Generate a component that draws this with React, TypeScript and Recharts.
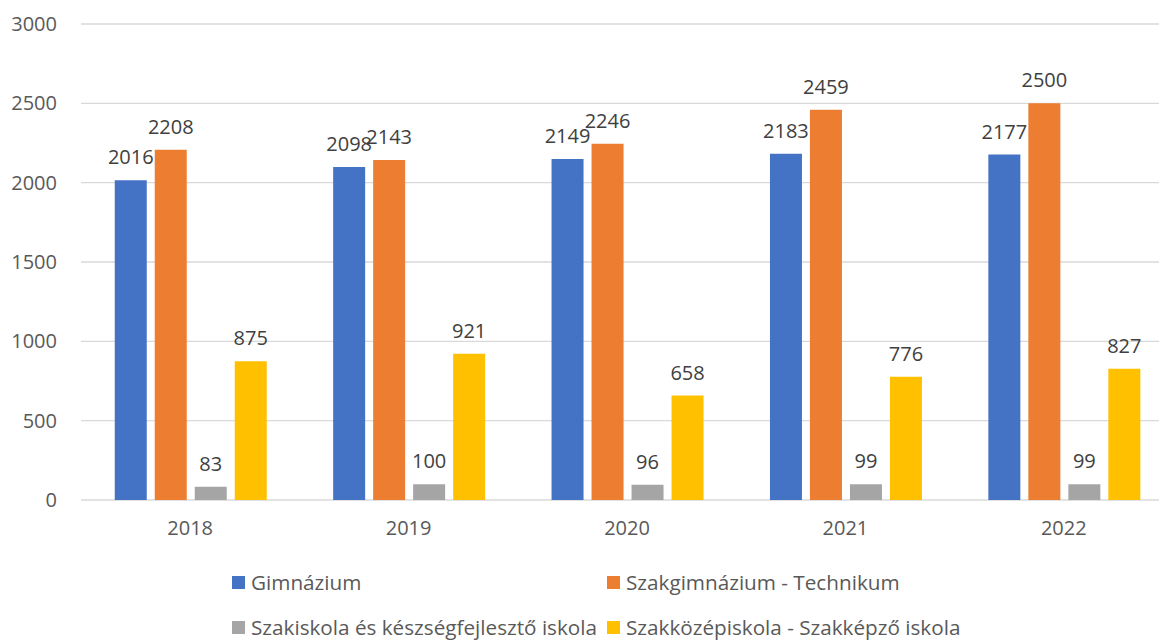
import React from 'react';
import { BarChart, Bar, XAxis, YAxis, CartesianGrid, Legend, LabelList } from 'recharts';

const years = ['2018', '2019', '2020', '2021', '2022'];
const gimnazium = [2016, 2098, 2149, 2183, 2177];
const technikum = [2208, 2143, 2246, 2459, 2500];
const szakiskola = [83, 100, 96, 99, 99];
const szakkepzo = [875, 921, 658, 776, 827];
const yTicks = [0, 500, 1000, 1500, 2000, 2500, 3000];

const series = [
  { key: 'gimnazium', name: 'Gimnázium', color: '#4472C4' },
  { key: 'technikum', name: 'Szakgimnázium - Technikum', color: '#ED7D31' },
  { key: 'szakiskola', name: 'Szakiskola és készségfejlesztő iskola', color: '#A5A5A5' },
  { key: 'szakkepzo', name: 'Szakközépiskola - Szakképző iskola', color: '#FFC000' },
];

const data = years.map((year, i) => ({
  year,
  gimnazium: gimnazium[i],
  technikum: technikum[i],
  szakiskola: szakiskola[i],
  szakkepzo: szakkepzo[i],
}));

const FONT = '"Open Sans", "Noto Sans", sans-serif';

const LegendBox = () => (
  <div
    style={{
      height: 100,
      boxSizing: 'border-box',
      paddingLeft: 232,
      paddingTop: 29,
      display: 'grid',
      gridTemplateColumns: 'max-content max-content',
      columnGap: 10,
      rowGap: 18,
      fontFamily: FONT,
      fontSize: 20.7,
      color: '#595959',
      lineHeight: '27px',
    }}
  >
    {series.map(s => (
      <div key={s.key} style={{ display: 'flex', alignItems: 'center', whiteSpace: 'nowrap' }}>
        <span style={{ width: 13, height: 13, background: s.color, marginRight: 6, display: 'inline-block' }} />
        {s.name}
      </div>
    ))}
  </div>
);

const App = () => {
  return (
    <div style={{ position: 'absolute', left: 0, top: 0, width: 1159, height: 640, overflow: 'hidden', background: '#fff' }}>
      <BarChart
        width={1180}
        height={640}
        data={data}
        margin={{ top: 24, right: 7, bottom: 0, left: 0 }}
        barCategoryGap={33.75}
        barGap={8}
      >
        <CartesianGrid vertical={false} stroke="#D9D9D9" strokeWidth={1.3} />
        <XAxis
          dataKey="year"
          height={40}
          axisLine={false}
          tickLine={false}
          tickSize={0}
          tickMargin={21}
          tick={{ fill: '#595959', fontSize: 20, fontFamily: FONT }}
        />
        <YAxis
          width={81}
          domain={[0, 3000]}
          ticks={yTicks}
          axisLine={false}
          tickLine={false}
          tickSize={0}
          tickMargin={24}
          tick={{ fill: '#595959', fontSize: 20, fontFamily: FONT }}
        />
        <Legend verticalAlign="bottom" content={() => <LegendBox />} />
        {series.map(s => (
          <Bar key={s.key} dataKey={s.key} name={s.name} fill={s.color} isAnimationActive={false}>
            <LabelList
              dataKey={s.key}
              position="top"
              offset={16}
              style={{ fill: '#404040', fontSize: 20, fontFamily: FONT }}
            />
          </Bar>
        ))}
      </BarChart>
    </div>
  );
};

export default App;
